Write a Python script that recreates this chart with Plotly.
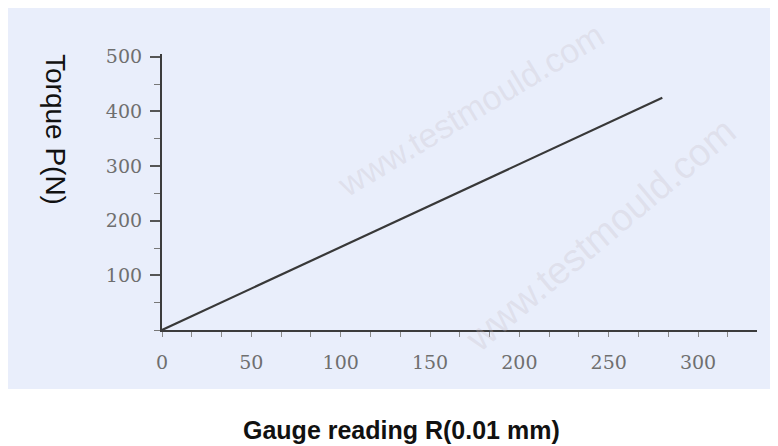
import plotly.graph_objects as go

# Data
gauge_reading = [0, 280]          # R (0.01 mm)
torque = [0, 425]                 # P (N)

x_tick_vals = [0, 50, 100, 150, 200, 250, 300]
x_tick_text = ["0", "50", "100", "150", "200", "250", "300"]
y_tick_vals = [100, 200, 300, 400, 500]
y_tick_text = ["100", "200", "300", "400", "500"]

W, H = 778, 446
OFF = 8  # page body margin offset
L, R_EDGE, T, B = 162 - OFF, 757 - OFF, 54 - OFF, 330 - OFF

fig = go.Figure()
fig.add_trace(go.Scatter(
    x=gauge_reading, y=torque, mode="lines",
    line=dict(color="#383838", width=2.2), hoverinfo="skip", showlegend=False,
))

tick_font = dict(family="DejaVu Serif", size=19, color="#6f6f6f")

def px_x(p):
    return (p - OFF - L) / (R_EDGE - L)

def px_y(p):
    return (B - (p - OFF)) / (B - T)

fig.update_layout(
    width=W, height=H,
    margin=dict(l=L, r=W - R_EDGE, t=T, b=H - B),
    paper_bgcolor="white",
    plot_bgcolor="rgba(0,0,0,0)",
    showlegend=False,
    xaxis=dict(
        range=[0, 333], showgrid=False, zeroline=False,
        showline=True, linecolor="#3c3c3c", linewidth=2.2,
        tickmode="array", tickvals=x_tick_vals, ticktext=x_tick_text,
        ticks="outside", ticklen=0, tickcolor="#777",
        ticklabelstandoff=14, tickfont=tick_font,
        minor=dict(ticks="outside", ticklen=5, tickwidth=1, tickcolor="#8a8a8a",
                   dtick=50 / 3, tick0=0),
    ),
    yaxis=dict(
        range=[0, 505], showgrid=False, zeroline=False,
        showline=True, linecolor="#3c3c3c", linewidth=2.2,
        tickmode="array", tickvals=y_tick_vals, ticktext=y_tick_text,
        ticks="outside", ticklen=10, tickwidth=1.5, tickcolor="#555",
        ticklabelstandoff=4, tickfont=tick_font,
        minor=dict(ticks="outside", ticklen=6, tickwidth=1.2, tickcolor="#777",
                   dtick=50, tick0=0),
    ),
    shapes=[dict(
        type="rect", xref="paper", yref="paper", layer="below",
        x0=px_x(8), x1=px_x(800),
        y0=px_y(389), y1=px_y(8),
        fillcolor="#e9eefb", line=dict(width=0),
    )],
)

# watermarks (faint), kept inside the canvas
wm_color = "rgba(200,190,200,0.30)"
for (xc, yc, txt, ang, sz) in [(470, 110, "www.testmould.com", -31, 34),
                                (600, 235, "www.testmould.com", -40, 38)]:
    fig.add_annotation(x=px_x(xc), y=px_y(yc), xref="paper", yref="paper",
                       text=txt, showarrow=False, textangle=ang,
                       xanchor="center", yanchor="middle",
                       font=dict(family="Liberation Sans", size=sz, color=wm_color))

# axis titles
fig.add_annotation(x=px_x(56), y=px_y(129), xref="paper", yref="paper",
                   text="Torque P(N)", showarrow=False, textangle=90,
                   xanchor="center", yanchor="middle",
                   font=dict(family="Liberation Sans", size=28, color="#111"))
fig.add_annotation(x=px_x(401), y=px_y(430), xref="paper", yref="paper",
                   text="<b>Gauge reading R(0.01 mm)</b>", showarrow=False,
                   xanchor="center", yanchor="middle",
                   font=dict(family="Liberation Sans", size=25, color="#111"))

fig.write_html("out.html")
